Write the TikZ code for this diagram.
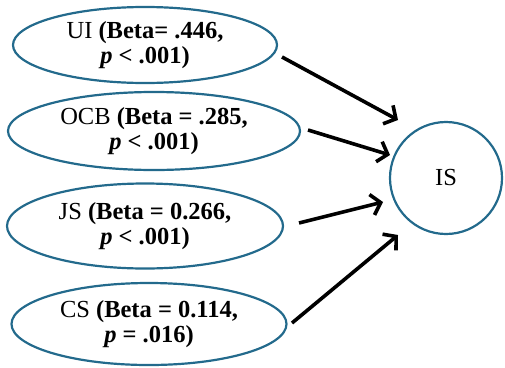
\documentclass[tikz,border=0pt]{standalone}
\usepackage{fontspec}
\setmainfont{Liberation Serif}
\usetikzlibrary{shapes.geometric,arrows.meta}
\definecolor{edgeblue}{HTML}{236A8C}
\tikzset{
  factor/.style={ellipse, draw=edgeblue, line width=2.2pt, inner sep=0pt, align=center,
    font=\fontsize{24.5}{25}\selectfont},
  target/.style={circle, draw=edgeblue, line width=2.2pt, inner sep=0pt, minimum size=112pt,
    font=\fontsize{24.5}{25}\selectfont},
  effect/.style={line width=3.6pt, -{Straight Barb[length=9pt,width=21pt]}}
}
\begin{document}
\begin{tikzpicture}[x=1pt,y=-1pt]
\useasboundingbox (0,0) rectangle (505,367);
\node[factor, minimum width=264pt, minimum height=76pt] (ui) at (145,45)
  {UI \textbf{(Beta= .446,}\\\textbf{\textit{p} < .001)}};
\node[factor, minimum width=292pt, minimum height=78pt] (ocb) at (154,131)
  {OCB \textbf{(Beta = .285,}\\\textbf{\textit{p} < .001)}};
\node[factor, minimum width=276pt, minimum height=85pt] (js) at (145,226)
  {JS \textbf{(Beta = 0.266,}\\\textbf{\textit{p} < .001)}};
\node[factor, minimum width=275pt, minimum height=82pt] (cs) at (149,324)
  {CS \textbf{(Beta = 0.114,}\\\textbf{\textit{p} = .016)}};
\node[target] (is) at (446,178) {IS};
\coordinate (a1) at (282,57);  \coordinate (b1) at (398,120);
\coordinate (a2) at (308,130); \coordinate (b2) at (390,155);
\coordinate (a3) at (299,223); \coordinate (b3) at (383,202);
\coordinate (a4) at (292,323); \coordinate (b4) at (398,235);
\draw[effect] (a1) -- (b1);
\draw[effect] (a2) -- (b2);
\draw[effect] (a3) -- (b3);
\draw[effect] (a4) -- (b4);
\end{tikzpicture}
\end{document}
